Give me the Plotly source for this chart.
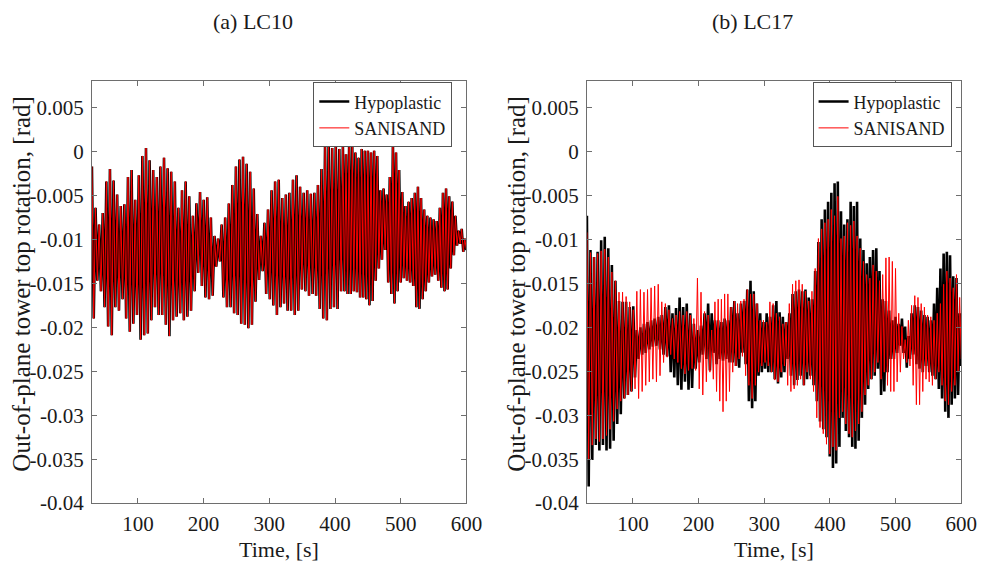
import numpy as np
import plotly.graph_objects as go

# ---------------- data ----------------
TIME_TICKS = [100, 200, 300, 400, 500, 600]
ROT_TICKS = [0.005, 0, -0.005, -0.01, -0.015, -0.02, -0.025, -0.03, -0.035, -0.04]
ROT_TICK_LABELS = ["0.005", "0", "-0.005", "-0.01", "-0.015", "-0.02",
                   "-0.025", "-0.03", "-0.035", "-0.04"]

# segment time bounds [s] for the successive peak/trough readings
LC10_SEG_T = [30, 222, 412, 600]
LC17_SEG_T = [30, 220, 412, 600]

# (a) LC10 - Hypoplastic: per-cycle maxima / minima [rad]
H10_MAX_A = [-0.0017, -0.0064, -0.0083, -0.0070, -0.0034, -0.0020, -0.0033, -0.0049, -0.0062, -0.0060,
             -0.0029, -0.0021, -0.0055, -0.0027, -0.0005, 0.0004, -0.0010, -0.0021, -0.0029, -0.0017,
             -0.0007, -0.0019, -0.0023, -0.0034, -0.0064, -0.0044, -0.0034, -0.0051, -0.0073, -0.0059,
             -0.0046, -0.0055, -0.0052, -0.0075, -0.0096]
H10_MIN_A = [-0.0190, -0.0147, -0.0159, -0.0177, -0.0199, -0.0209, -0.0177, -0.0181, -0.0168, -0.0190,
             -0.0205, -0.0196, -0.0186, -0.0214, -0.0209, -0.0207, -0.0192, -0.0177, -0.0186, -0.0186,
             -0.0197, -0.0210, -0.0192, -0.0188, -0.0184, -0.0192, -0.0188, -0.0181, -0.0159, -0.0138,
             -0.0153, -0.0166, -0.0168, -0.0164, -0.0131]
H10_MAX_B = [-0.0099, -0.0083, -0.0075, -0.0059, -0.0038, -0.0017, -0.0009, -0.0006, -0.0014, -0.0023,
             -0.0042, -0.0071, -0.0096, -0.0081, -0.0066, -0.0044, -0.0034, -0.0032, -0.0053, -0.0049,
             -0.0047, -0.0032, -0.0027, -0.0040, -0.0047, -0.0044, -0.0048, -0.0047, -0.0038, -0.0020,
             0.0006, 0.0010, 0.0004, 0.0008, 0.0003]
H10_MIN_B = [-0.0125, -0.0166, -0.0177, -0.0177, -0.0184, -0.0186, -0.0196, -0.0197, -0.0201, -0.0197,
             -0.0171, -0.0146, -0.0136, -0.0162, -0.0168, -0.0175, -0.0186, -0.0177, -0.0173, -0.0181,
             -0.0181, -0.0186, -0.0181, -0.0157, -0.0159, -0.0164, -0.0162, -0.0164, -0.0179, -0.0190,
             -0.0192, -0.0179, -0.0177, -0.0179, -0.0159]
H10_MAX_C = [0.0006, -0.0003, 0.0006, 0.0006, -0.0001, -0.0007, 0.0003, 0.0001, 0.0001, -0.0001,
             0.0001, -0.0005, -0.0044, -0.0042, -0.0049, -0.0029, 0.0009, -0.0001, -0.0021, -0.0046,
             -0.0062, -0.0057, -0.0053, -0.0047, -0.0040, -0.0053, -0.0066, -0.0073, -0.0075, -0.0077,
             -0.0079, -0.0064, -0.0047, -0.0042, -0.0051, -0.0057, -0.0073, -0.0090, -0.0088, -0.0099]
H10_MIN_C = [-0.0159, -0.0162, -0.0162, -0.0159, -0.0160, -0.0166, -0.0166, -0.0168, -0.0175, -0.0170,
             -0.0147, -0.0133, -0.0123, -0.0112, -0.0149, -0.0162, -0.0173, -0.0159, -0.0149, -0.0144,
             -0.0147, -0.0149, -0.0153, -0.0177, -0.0179, -0.0168, -0.0159, -0.0149, -0.0142, -0.0140,
             -0.0147, -0.0155, -0.0159, -0.0157, -0.0133, -0.0118, -0.0107, -0.0105, -0.0114, -0.0112]

# (a) LC10 - SANISAND: visually coincides with the Hypoplastic trace
S10_MAX_A, S10_MIN_A = H10_MAX_A, H10_MIN_A
S10_MAX_B, S10_MIN_B = H10_MAX_B, H10_MIN_B
S10_MAX_C, S10_MIN_C = H10_MAX_C, H10_MIN_C

# (b) LC17 - Hypoplastic
H17_MAX_A = [-0.0073, -0.0112, -0.0120, -0.0114, -0.0101, -0.0097, -0.0110, -0.0129, -0.0147, -0.0170,
             -0.0171, -0.0171, -0.0177, -0.0176, -0.0203, -0.0200, -0.0196, -0.0194, -0.0192, -0.0190,
             -0.0188, -0.0186, -0.0177, -0.0175, -0.0184, -0.0178, -0.0166, -0.0177, -0.0173, -0.0184,
             -0.0196, -0.0203, -0.0198, -0.0184, -0.0173]
H17_MIN_A = [-0.0381, -0.0351, -0.0334, -0.0340, -0.0334, -0.0340, -0.0338, -0.0329, -0.0310, -0.0299,
             -0.0281, -0.0277, -0.0273, -0.0257, -0.0236, -0.0231, -0.0229, -0.0225, -0.0222, -0.0221,
             -0.0225, -0.0231, -0.0233, -0.0251, -0.0257, -0.0266, -0.0271, -0.0262, -0.0271, -0.0269,
             -0.0247, -0.0240, -0.0231, -0.0236, -0.0249]
H17_MAX_B = [-0.0184, -0.0192, -0.0192, -0.0194, -0.0190, -0.0192, -0.0177, -0.0170, -0.0184, -0.0173,
             -0.0170, -0.0157, -0.0147, -0.0159, -0.0173, -0.0184, -0.0194, -0.0184, -0.0188, -0.0175,
             -0.0170, -0.0183, -0.0188, -0.0194, -0.0184, -0.0162, -0.0159, -0.0157, -0.0159, -0.0157,
             -0.0166, -0.0168, -0.0136, -0.0103, -0.0077, -0.0066, -0.0057, -0.0047, -0.0036]
H17_MIN_B = [-0.0229, -0.0242, -0.0236, -0.0238, -0.0236, -0.0240, -0.0240, -0.0244, -0.0246, -0.0229,
             -0.0242, -0.0284, -0.0292, -0.0284, -0.0255, -0.0251, -0.0247, -0.0251, -0.0251, -0.0259,
             -0.0264, -0.0257, -0.0251, -0.0236, -0.0255, -0.0266, -0.0260, -0.0255, -0.0266, -0.0259,
             -0.0255, -0.0266, -0.0284, -0.0307, -0.0316, -0.0325, -0.0347, -0.0360, -0.0355]
H17_MAX_C = [-0.0034, -0.0068, -0.0083, -0.0077, -0.0057, -0.0062, -0.0057, -0.0099, -0.0112, -0.0127,
             -0.0120, -0.0112, -0.0110, -0.0136, -0.0168, -0.0170, -0.0181, -0.0192, -0.0188, -0.0196,
             -0.0190, -0.0199, -0.0210, -0.0184, -0.0175, -0.0177, -0.0181, -0.0186, -0.0188, -0.0192,
             -0.0173, -0.0155, -0.0133, -0.0116, -0.0114, -0.0118, -0.0142, -0.0144, -0.0184]
H17_MIN_C = [-0.0336, -0.0303, -0.0318, -0.0325, -0.0336, -0.0338, -0.0329, -0.0303, -0.0288, -0.0270,
             -0.0259, -0.0255, -0.0247, -0.0277, -0.0273, -0.0251, -0.0236, -0.0236, -0.0229, -0.0221,
             -0.0229, -0.0246, -0.0236, -0.0231, -0.0242, -0.0247, -0.0251, -0.0244, -0.0251, -0.0255,
             -0.0259, -0.0270, -0.0281, -0.0296, -0.0303, -0.0288, -0.0281, -0.0277, -0.0244]

# (b) LC17 - SANISAND
S17_MAX_A = [-0.0092, -0.0115, -0.0120, -0.0116, -0.0113, -0.0111, -0.0120, -0.0137, -0.0147, -0.0160,
             -0.0160, -0.0165, -0.0171, -0.0180, -0.0159, -0.0157, -0.0160, -0.0157, -0.0155, -0.0153,
             -0.0151, -0.0171, -0.0173, -0.0180, -0.0190, -0.0186, -0.0182, -0.0186, -0.0182, -0.0186,
             -0.0190, -0.0144, -0.0160, -0.0182, -0.0186]
S17_MIN_A = [-0.0351, -0.0334, -0.0327, -0.0330, -0.0327, -0.0323, -0.0316, -0.0307, -0.0293, -0.0284,
             -0.0281, -0.0277, -0.0273, -0.0270, -0.0281, -0.0273, -0.0266, -0.0262, -0.0259, -0.0262,
             -0.0255, -0.0240, -0.0234, -0.0231, -0.0236, -0.0240, -0.0247, -0.0253, -0.0249, -0.0247,
             -0.0249, -0.0270, -0.0277, -0.0262, -0.0251]
S17_MAX_B = [-0.0203, -0.0171, -0.0168, -0.0168, -0.0162, -0.0162, -0.0177, -0.0170, -0.0173, -0.0170,
             -0.0168, -0.0157, -0.0162, -0.0162, -0.0173, -0.0192, -0.0192, -0.0194, -0.0171, -0.0173,
             -0.0184, -0.0188, -0.0196, -0.0194, -0.0173, -0.0151, -0.0147, -0.0146, -0.0151, -0.0159,
             -0.0170, -0.0159, -0.0133, -0.0099, -0.0088, -0.0081, -0.0077, -0.0066, -0.0073]
S17_MIN_B = [-0.0259, -0.0273, -0.0284, -0.0296, -0.0284, -0.0273, -0.0251, -0.0244, -0.0236, -0.0233,
             -0.0255, -0.0266, -0.0281, -0.0266, -0.0251, -0.0244, -0.0240, -0.0244, -0.0251, -0.0260,
             -0.0262, -0.0251, -0.0244, -0.0266, -0.0273, -0.0270, -0.0266, -0.0259, -0.0266, -0.0251,
             -0.0259, -0.0273, -0.0303, -0.0314, -0.0321, -0.0333, -0.0344, -0.0336, -0.0340]
S17_MAX_C = [-0.0051, -0.0099, -0.0096, -0.0081, -0.0084, -0.0079, -0.0096, -0.0110, -0.0125, -0.0140,
             -0.0144, -0.0129, -0.0136, -0.0147, -0.0140, -0.0121, -0.0120, -0.0125, -0.0133, -0.0184,
             -0.0199, -0.0214, -0.0192, -0.0175, -0.0164, -0.0166, -0.0173, -0.0177, -0.0186, -0.0188,
             -0.0192, -0.0184, -0.0173, -0.0151, -0.0136, -0.0144, -0.0155, -0.0140, -0.0166]
S17_MIN_C = [-0.0303, -0.0296, -0.0310, -0.0321, -0.0325, -0.0318, -0.0310, -0.0296, -0.0277, -0.0266,
             -0.0259, -0.0251, -0.0240, -0.0259, -0.0251, -0.0266, -0.0273, -0.0273, -0.0262, -0.0251,
             -0.0236, -0.0240, -0.0244, -0.0266, -0.0288, -0.0288, -0.0273, -0.0259, -0.0262, -0.0266,
             -0.0259, -0.0251, -0.0266, -0.0284, -0.0288, -0.0273, -0.0266, -0.0251, -0.0236]


# ---------------- build series ----------------
def build(bounds, segments):
    ts, vs = [], []
    last = len(segments) - 1
    for i, (mx, mn) in enumerate(segments):
        vals = []
        for a, b in zip(mx, mn):
            vals += [a, b]
        t = np.linspace(bounds[i], bounds[i + 1], len(vals), endpoint=(i == last))
        ts += list(t)
        vs += vals
    return ts, vs


t_h10, v_h10 = build(LC10_SEG_T, [(H10_MAX_A, H10_MIN_A), (H10_MAX_B, H10_MIN_B), (H10_MAX_C, H10_MIN_C)])
t_s10, v_s10 = build(LC10_SEG_T, [(S10_MAX_A, S10_MIN_A), (S10_MAX_B, S10_MIN_B), (S10_MAX_C, S10_MIN_C)])
t_h17, v_h17 = build(LC17_SEG_T, [(H17_MAX_A, H17_MIN_A), (H17_MAX_B, H17_MIN_B), (H17_MAX_C, H17_MIN_C)])
t_s17, v_s17 = build(LC17_SEG_T, [(S17_MAX_A, S17_MIN_A), (S17_MAX_B, S17_MIN_B), (S17_MAX_C, S17_MIN_C)])

FONT = "Liberation Serif"
TXT = "#1a1a1a"
AX = "#6e6e6e"

fig = go.Figure()
fig.add_trace(go.Scatter(x=t_h10, y=v_h10, mode="lines", name="Hypoplastic",
                         line=dict(color="black", width=2.6), xaxis="x", yaxis="y", legend="legend"))
fig.add_trace(go.Scatter(x=t_s10, y=v_s10, mode="lines", name="SANISAND",
                         line=dict(color="#ff0000", width=1), xaxis="x", yaxis="y", legend="legend"))
fig.add_trace(go.Scatter(x=t_h17, y=v_h17, mode="lines", name="Hypoplastic",
                         line=dict(color="black", width=2.6), xaxis="x2", yaxis="y2", legend="legend2"))
fig.add_trace(go.Scatter(x=t_s17, y=v_s17, mode="lines", name="SANISAND",
                         line=dict(color="#ff0000", width=1), xaxis="x2", yaxis="y2", legend="legend2"))

xcommon = dict(range=[30, 600], tickvals=TIME_TICKS, ticktext=[str(v) for v in TIME_TICKS],
               showline=True, linecolor=AX, linewidth=1, mirror="ticks", ticks="inside",
               ticklen=5, tickcolor=AX, showgrid=False, zeroline=False, ticklabelstandoff=2,
               tickfont=dict(family=FONT, size=21, color=TXT))
ycommon = dict(range=[-0.04, 0.008], tickvals=ROT_TICKS, ticktext=ROT_TICK_LABELS,
               showline=True, linecolor=AX, linewidth=1, mirror="ticks", ticks="inside",
               ticklen=5, tickcolor=AX, showgrid=False, zeroline=False, ticklabelstandoff=3,
               tickfont=dict(family=FONT, size=21, color=TXT), domain=[0.0951, 0.8539])

legcommon = dict(y=0.852, xanchor="right", yanchor="top", bgcolor="white",
                 bordercolor="#555555", borderwidth=1, tracegroupgap=0,
                 font=dict(family=FONT, size=18, color=TXT))

fig.update_layout(
    width=995, height=568, margin=dict(l=0, r=0, t=0, b=0),
    paper_bgcolor="white", plot_bgcolor="white",
    xaxis=dict(domain=[0.0939, 0.4764], anchor="y", **xcommon),
    yaxis=dict(anchor="x", **ycommon),
    xaxis2=dict(domain=[0.5995, 0.9819], anchor="y2", **xcommon),
    yaxis2=dict(anchor="x2", **ycommon),
    legend=dict(x=0.462, **legcommon),
    legend2=dict(x=0.972, **legcommon),
    showlegend=True,
)

ann = []
for x, text in [(0.258, "(a) LC10"), (0.769, "(b) LC17")]:
    ann.append(dict(x=x, y=0.961, xref="paper", yref="paper", text=text, showarrow=False,
                    xanchor="center", yanchor="middle", font=dict(family=FONT, size=22, color=TXT)))
for x in [0.285, 0.791]:
    ann.append(dict(x=x, y=0.0123, xref="paper", yref="paper", text="Time, [s]", showarrow=False,
                    xanchor="center", yanchor="middle", font=dict(family=FONT, size=22, color=TXT)))
for x in [0.022, 0.5276]:
    ann.append(dict(x=x, y=0.489, xref="paper", yref="paper",
                    text="Out-of-plane tower top rotation, [rad]", showarrow=False, textangle=-90,
                    xanchor="center", yanchor="middle", font=dict(family=FONT, size=25, color=TXT)))
fig.update_layout(annotations=ann)

fig.write_html("out.html")
